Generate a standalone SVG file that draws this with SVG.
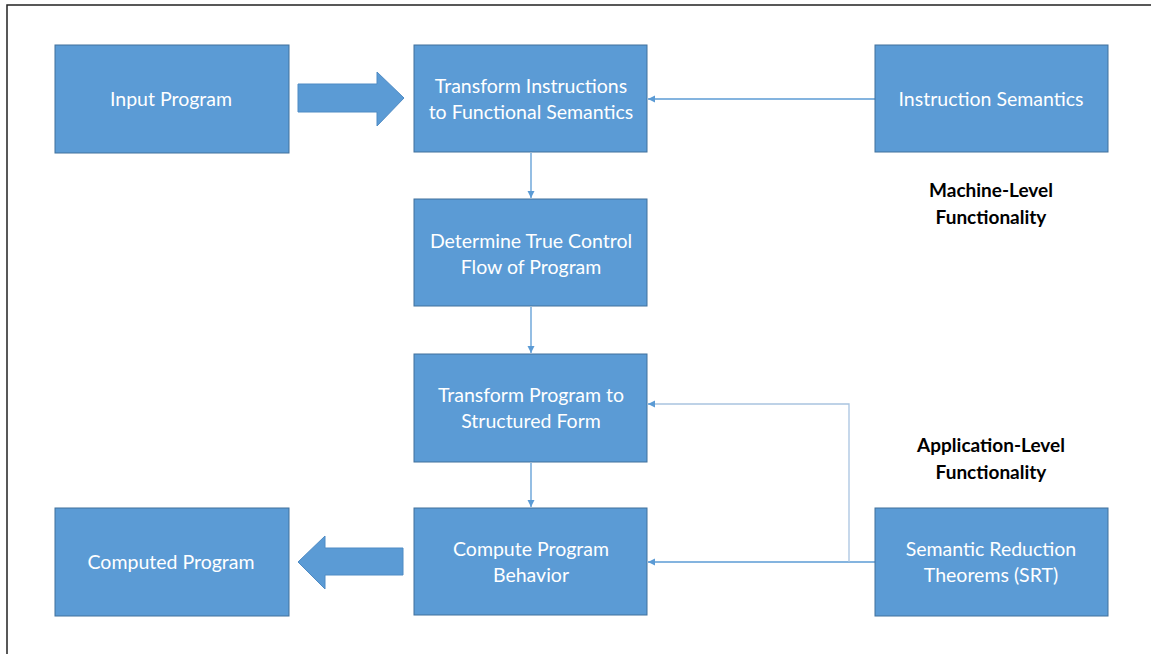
<svg xmlns="http://www.w3.org/2000/svg" width="1151" height="654" viewBox="0 0 1151 654">
<defs>
<style>
.box{fill:#5b9bd5;stroke:#41719c;stroke-width:1}
.lbl{font-family:Lato,"Open Sans","Liberation Sans",sans-serif;font-size:19.5px;fill:#ffffff;text-anchor:middle}
.hdr{font-family:Lato,"Open Sans","Liberation Sans",sans-serif;font-size:19px;font-weight:bold;fill:#000000;text-anchor:middle}
.conn{fill:none;stroke:#5b9bd5;stroke-width:1.3}
.conn2{fill:none;stroke:#a9c4e0;stroke-width:1.3}
.block{fill:#5b9bd5;stroke:#4f8bc4;stroke-width:1}
</style>
<marker id="ah" markerWidth="8" markerHeight="8" refX="7" refY="4" orient="auto" markerUnits="userSpaceOnUse">
<path d="M0,0.5 L7,4 L0,7.5 Z" fill="#5b9bd5"/>
</marker>
</defs>
<rect x="0" y="0" width="1151" height="654" fill="#ffffff"/>
<path d="M7,654 L7,5 L1151,5" fill="none" stroke="#222222" stroke-width="1.5"/>

<g id="connectors">
<line class="conn" x1="875" y1="99" x2="648" y2="99" marker-end="url(#ah)"/>
<line class="conn" x1="531" y1="153" x2="531" y2="198" marker-end="url(#ah)"/>
<line class="conn" x1="531" y1="307" x2="531" y2="353" marker-end="url(#ah)"/>
<line class="conn" x1="531" y1="463" x2="531" y2="507" marker-end="url(#ah)"/>
<line class="conn" x1="875" y1="562" x2="648" y2="562" marker-end="url(#ah)"/>
<path class="conn2" d="M849,562 L849,404 L652,404"/>
<line class="conn" x1="652" y1="404" x2="648" y2="404" marker-end="url(#ah)"/>
<path id="arrow-right" class="block" d="M298,84 L377,84 L377,72 L404,98 L377,126 L377,112 L298,112 Z"/>
<path id="arrow-left" class="block" d="M403,548 L325,548 L325,536 L298,562 L325,589 L325,575 L403,575 Z"/>
</g>

<g id="input-program">
<rect class="box" x="55" y="45" width="234" height="108"/>
<text class="lbl" x="171" y="106">Input Program</text>
</g>
<g id="transform-instructions">
<rect class="box" x="414" y="45" width="233" height="107"/>
<text class="lbl" x="531" y="93">Transform Instructions</text>
<text class="lbl" x="531" y="119">to Functional Semantics</text>
</g>
<g id="instruction-semantics">
<rect class="box" x="875" y="45" width="233" height="107"/>
<text class="lbl" x="991" y="106">Instruction Semantics</text>
</g>
<g id="machine-level">
<text class="hdr" x="991" y="197">Machine-Level</text>
<text class="hdr" x="991" y="224">Functionality</text>
</g>
<g id="determine-control-flow">
<rect class="box" x="414" y="199" width="233" height="107"/>
<text class="lbl" x="531" y="248">Determine True Control</text>
<text class="lbl" x="531" y="274">Flow of Program</text>
</g>
<g id="transform-program">
<rect class="box" x="414" y="354" width="233" height="108"/>
<text class="lbl" x="531" y="402">Transform Program to</text>
<text class="lbl" x="531" y="428">Structured Form</text>
</g>
<g id="application-level">
<text class="hdr" x="991" y="452">Application-Level</text>
<text class="hdr" x="991" y="479">Functionality</text>
</g>
<g id="computed-program">
<rect class="box" x="55" y="508" width="234" height="108"/>
<text class="lbl" x="171" y="569">Computed Program</text>
</g>
<g id="compute-behavior">
<rect class="box" x="414" y="508" width="233" height="107"/>
<text class="lbl" x="531" y="556">Compute Program</text>
<text class="lbl" x="531" y="582">Behavior</text>
</g>
<g id="srt">
<rect class="box" x="875" y="508" width="233" height="108"/>
<text class="lbl" x="991" y="556">Semantic Reduction</text>
<text class="lbl" x="991" y="582">Theorems (SRT)</text>
</g>
</svg>
